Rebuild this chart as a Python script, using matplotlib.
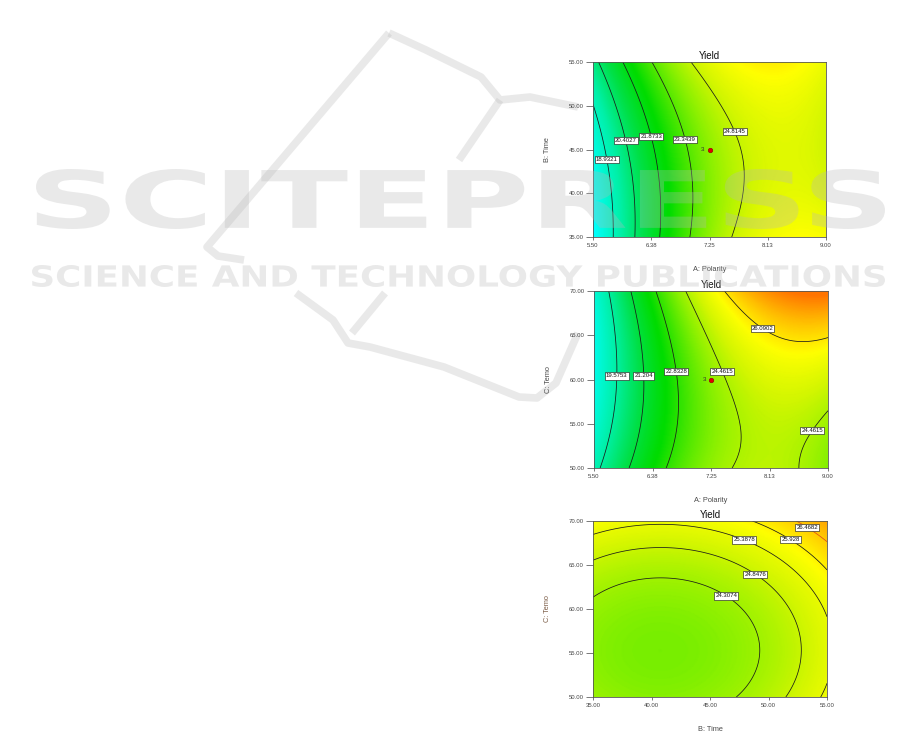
import numpy as np
import matplotlib
matplotlib.use("Agg")
import matplotlib.pyplot as plt
from matplotlib.colors import LinearSegmentedColormap, Normalize
from matplotlib.textpath import TextPath
from matplotlib.patches import PathPatch
from matplotlib.lines import Line2D
from matplotlib.font_manager import FontProperties
from matplotlib.transforms import Affine2D

plt.rcParams['font.family'] = ['Liberation Sans', 'DejaVu Sans']

# factor ranges
polarity_range = [5.5, 9.0]
time_range = [35, 55]
temp_range = [50, 70]

polarity_ticks = ['5.50', '6.38', '7.25', '8.13', '9.00']
time_ticks = ['35.00', '40.00', '45.00', '50.00', '55.00']
temp_ticks = ['50.00', '55.00', '60.00', '65.00', '70.00']

# quadratic model in coded units: b0, x, y, xy, x^2, y^2
coef_ab = [24.0786, 3.4263, 0.5957, -0.7219, -2.5688, 0.6347]
coef_ac = [24.0610, 3.5111, 0.7366, 1.1376, -2.5487, 0.7918]
coef_bc = [24.0795, 0.6266, 0.7384, -0.0042, 0.7406, 0.7871]

# contour levels shown on each plot
levels_ab = [18.9321, 20.4027, 21.8733, 23.3439, 24.8145]
levels_ac = [19.5753, 21.204, 22.8328, 24.4615, 26.0902]
levels_bc = [24.3074, 24.8476, 25.3878, 25.928, 26.4682]

# center point (3 replicates)
center_ab = (7.25, 45)
center_ac = (7.25, 60)

W, H = 901, 734
fig = plt.figure(figsize=(W/100, H/100), dpi=100)

cmap_vals = [17.5, 19.5, 21.0, 22.3, 24.0, 25.0, 25.8, 26.6, 27.6]
cmap_cols = ['#00ffff', '#00f0a8', '#00e048', '#00dc00', '#88f000', '#d4f600', '#ffff00', '#ffc400', '#ff7400']
vmin, vmax = cmap_vals[0], cmap_vals[-1]
cmap = LinearSegmentedColormap.from_list(
    'de', [((v - vmin)/(vmax - vmin), c) for v, c in zip(cmap_vals, cmap_cols)])
norm = Normalize(vmin, vmax)


def fmt(v):
    return f'{v:.4f}'.rstrip('0')


def panel(pos, coef, xr, yr, xticks, yticks, levels, xlab, ylab, label_pos,
          center=None, ylab_color='#4a4a4a', line_colors=None):
    ax = fig.add_axes(pos)
    gx, gy = np.meshgrid(np.linspace(*xr, 250), np.linspace(*yr, 250))
    x = (gx - np.mean(xr)) / ((xr[1] - xr[0]) / 2)
    y = (gy - np.mean(yr)) / ((yr[1] - yr[0]) / 2)
    z = coef[0] + coef[1]*x + coef[2]*y + coef[3]*x*y + coef[4]*x**2 + coef[5]*y**2
    ax.pcolormesh(gx, gy, z, cmap=cmap, norm=norm, shading='gouraud', rasterized=True)
    cs = ax.contour(gx, gy, z, levels=levels,
                    colors=line_colors if line_colors else '#1a1a1a', linewidths=0.55)
    lbls = ax.clabel(cs, fmt=fmt, fontsize=4.3, manual=label_pos, inline=False)
    for t in lbls:
        t.set_rotation(0)
        t.set_color('#111111')
        t.set_bbox(dict(boxstyle='square,pad=0.18', fc='white', ec='#222222', lw=0.45))
    if center is not None:
        ax.plot(*center, 'o', ms=3.3, color='#e00000', mec='#900000', mew=0.4, zorder=5)
        ax.annotate('3', xy=center, xytext=(-3.5, 0), textcoords='offset points',
                    ha='right', va='center', fontsize=4.5, color='#333333')
    ax.set_xlim(xr)
    ax.set_ylim(yr)
    ax.set_xticks(np.linspace(*xr, len(xticks)))
    ax.set_xticklabels(xticks)
    ax.set_yticks(np.linspace(*yr, len(yticks)))
    ax.set_yticklabels(yticks)
    ax.tick_params(axis='both', labelsize=4.3, colors='#444444', width=0.5, pad=1.8)
    ax.tick_params(axis='y', length=5)
    ax.tick_params(axis='x', length=2.5)
    for s in ax.spines.values():
        s.set_color('#555555')
        s.set_linewidth(0.6)
    ax.set_title('Yield', fontsize=7, pad=2.5, color='#111111')
    ax.set_xlabel(xlab, fontsize=5.3, color='#4a4a4a')
    ax.set_ylabel(ylab, fontsize=5.3, color=ylab_color)
    h_px = pos[3] * H
    w_px = pos[2] * W
    ax.xaxis.set_label_coords(0.5, -29 / h_px)
    ax.yaxis.set_label_coords(-42 / w_px, 0.5)
    return ax


panel([0.6582, 0.6771, 0.2586, 0.2384], coef_ab, polarity_range, time_range,
      polarity_ticks, time_ticks, levels_ab, 'A: Polarity', 'B: Time',
      [(5.73, 43.9), (6.0, 46.0), (6.40, 46.5), (6.89, 46.2), (7.62, 47.0)],
      center=center_ab)

panel([0.6593, 0.3624, 0.2597, 0.2411], coef_ac, polarity_range, temp_range,
      polarity_ticks, temp_ticks, levels_ac, 'A: Polarity', 'C: Temo',
      [(5.83, 60.4), (6.24, 60.4), (6.74, 60.9), (7.41, 60.9), (8.04, 66.0), (8.74, 54.3)],
      center=center_ac)

panel([0.6582, 0.0504, 0.2597, 0.2398], coef_bc, time_range, temp_range,
      time_ticks, temp_ticks, levels_bc, 'B: Time', 'C: Temo',
      [(46.5, 61.7), (49.0, 64.2), (48.0, 68.1), (52.0, 68.1), (53.4, 69.5)],
      ylab_color='#7a5a44',
      line_colors=['#1a1a1a', '#1a1a1a', '#1a1a1a', '#1a1a1a', '#e04a1a'])

# faint publisher watermark over the page
wm_color = (0.72, 0.72, 0.72)
wm_alpha = 0.3
wm_font = FontProperties(family='DejaVu Sans', weight='bold')


def watermark(text, x0, y0, x1, y1):
    tp = TextPath((0, 0), text, size=100, prop=wm_font)
    e = tp.get_extents()
    tr = (Affine2D().translate(-e.x0, -e.y0)
          .scale((x1 - x0) / W / e.width, (y1 - y0) / H / e.height)
          .translate(x0 / W, 1 - y1 / H) + fig.transFigure)
    fig.add_artist(PathPatch(tp, transform=tr, fc=wm_color, ec='none', alpha=wm_alpha, zorder=10))


watermark('SCITEPRESS', 36, 169, 885, 229)
watermark('SCIENCE AND TECHNOLOGY PUBLICATIONS', 32, 265, 885, 287)

swoosh = [
    [(389, 33), (207, 247), (218, 256), (244, 260)],
    [(389, 33), (426, 50), (481, 77), (500, 100), (530, 97), (578, 107)],
    [(500, 100), (459, 160)],
    [(296, 293), (333, 320), (348, 343), (370, 347), (444, 367), (519, 397),
     (537, 398), (556, 383), (578, 333)],
    [(385, 293), (352, 333)],
]
for seg in swoosh:
    xs = [p[0] / W for p in seg]
    ys = [1 - p[1] / H for p in seg]
    fig.add_artist(Line2D(xs, ys, transform=fig.transFigure, color=wm_color,
                          alpha=wm_alpha, lw=5.5, solid_capstyle='butt',
                          solid_joinstyle='round', zorder=0))

fig.savefig('out.png', dpi=100)
